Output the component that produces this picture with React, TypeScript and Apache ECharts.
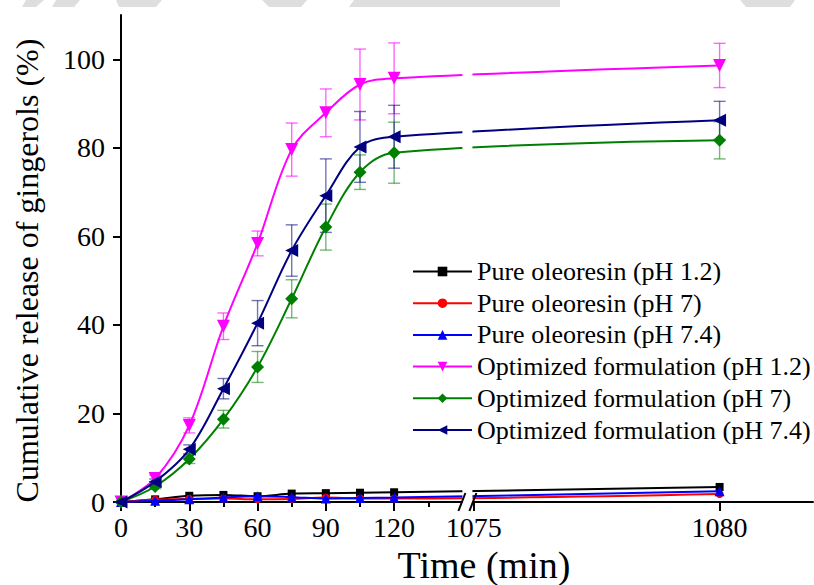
import React, { useEffect, useRef } from "react";
import * as echarts from "echarts";

// ---------- data ----------
const times = [0, 15, 30, 45, 60, 75, 90, 105, 120, 1080];

const seriesNames = [
  "Pure oleoresin (pH 1.2)",
  "Pure oleoresin (pH 7)",
  "Pure oleoresin (pH 7.4)",
  "Optimized formulation (pH 1.2)",
  "Optimized formulation (pH 7)",
  "Optimized formulation (pH 7.4)",
];

const pureOleoresinPH12 = [0, 0.6, 1.4, 1.6, 1.3, 1.9, 2.0, 2.1, 2.2, 3.4];
const pureOleoresinPH7 = [0, 0.5, 0.7, 0.8, 0.6, 0.7, 1.0, 0.8, 0.8, 1.8];
const pureOleoresinPH74 = [0, 0.3, 0.6, 1.0, 1.3, 1.1, 0.8, 0.9, 1.0, 2.4];

const optimizedPH12 = [0, 5.3, 17.3, 39.7, 58.4, 79.6, 87.9, 94.3, 95.7, 98.6];
const optimizedPH12Err = [0, 0.8, 1.7, 3.0, 2.8, 6.0, 5.4, 8.0, 8.0, 5.0];
const optimizedPH7 = [0, 3.5, 9.7, 18.7, 30.5, 45.9, 62.1, 74.5, 78.9, 81.7];
const optimizedPH7Err = [0, 0.5, 1.0, 2.0, 3.5, 4.3, 5.2, 3.9, 6.9, 4.2];
const optimizedPH74 = [0, 4.6, 11.9, 25.6, 40.4, 56.8, 69.2, 80.2, 82.5, 86.2];
const optimizedPH74Err = [0, 0.6, 1.0, 2.3, 5.1, 5.8, 8.3, 8.0, 7.1, 4.3];

const xTickLabels = [0, 30, 60, 90, 120, 1075, 1080];
const xMinorTicks = [15, 45, 75, 105, 135];
const yTickLabels = [0, 20, 40, 60, 80, 100];

// ---------- broken axis mapping ----------
const BREAK_FROM = 150;
const BREAK_TO = 1075;
const BREAK_GAP = 5;
const SEG2_SCALE = 21.6;
const X_END = 1081.9;
const Y_MAX = 110;

const toAxis = (t: number) =>
  t <= BREAK_FROM ? t : BREAK_FROM + BREAK_GAP + (t - BREAK_TO) * SEG2_SCALE;
const fromAxis = (d: number) =>
  d <= BREAK_FROM ? d : BREAK_TO + (d - BREAK_FROM - BREAK_GAP) / SEG2_SCALE;

const FONT = "'Liberation Serif', 'DejaVu Serif', serif";

type Spec = {
  values: number[];
  color: string;
  symbol: string;
  size: number;
  rotate?: number;
  err?: number[];
  errColor?: string;
};

const specs: Spec[] = [
  { values: pureOleoresinPH12, color: "#000000", symbol: "rect", size: 8 },
  { values: pureOleoresinPH7, color: "#ff0000", symbol: "circle", size: 8 },
  { values: pureOleoresinPH74, color: "#0000ff", symbol: "triangle", size: 10 },
  {
    values: optimizedPH12, color: "#ff00ff", symbol: "triangle", size: 13, rotate: 180,
    err: optimizedPH12Err, errColor: "rgba(255,0,255,0.6)",
  },
  {
    values: optimizedPH7, color: "#008000", symbol: "diamond", size: 13,
    err: optimizedPH7Err, errColor: "rgba(0,128,0,0.55)",
  },
  {
    values: optimizedPH74, color: "#000080", symbol: "triangle", size: 13, rotate: 90,
    err: optimizedPH74Err, errColor: "rgba(0,0,128,0.55)",
  },
];

export default function App() {
  const ref = useRef<HTMLDivElement>(null);

  useEffect(() => {
    document.body.style.margin = "0";
    if (!ref.current) return;
    const chart = echarts.init(ref.current, undefined, { renderer: "svg" });

    const lineSeries: any[] = specs.map((s, k) => ({
      name: seriesNames[k],
      type: "line",
      data: times.map((t, i) => [toAxis(t), s.values[i]]),
      smooth: 0.35,
      symbol: s.symbol,
      symbolSize: s.size,
      symbolRotate: s.rotate || 0,
      itemStyle: { color: s.color },
      lineStyle: { color: s.color, width: 2 },
      z: 3 + k,
    }));

    const errSeries: any[] = specs
      .filter((s) => s.err)
      .map((s) => ({
        type: "custom",
        name: "err",
        silent: true,
        z: 2,
        dimensions: ["x", "lo", "hi"],
        encode: { x: 0, y: [1, 2] },
        data: times
          .map((t, i) => [toAxis(t), s.values[i] - s.err![i], s.values[i] + s.err![i], s.err![i]])
          .filter((d) => d[3] > 0)
          .map((d) => [d[0], d[1], d[2]]),
        renderItem: (params: any, api: any) => {
          const x = api.value(0);
          const top = api.coord([x, api.value(2)]);
          const bot = api.coord([x, api.value(1)]);
          const w = 6;
          const style = { stroke: s.errColor, lineWidth: 1.4, fill: "none" };
          return {
            type: "group",
            children: [
              { type: "line", shape: { x1: top[0], y1: top[1], x2: bot[0], y2: bot[1] }, style },
              { type: "line", shape: { x1: top[0] - w, y1: top[1], x2: top[0] + w, y2: top[1] }, style },
              { type: "line", shape: { x1: bot[0] - w, y1: bot[1], x2: bot[0] + w, y2: bot[1] }, style },
            ],
          };
        },
      }));

    const axisLineStyle = { color: "#000", width: 2 };

    chart.setOption({
      animation: false,
      backgroundColor: "#ffffff",
      textStyle: { fontFamily: FONT, color: "#000" },
      grid: { left: 121, right: 1, top: 15, bottom: 83, containLabel: false, outerBoundsMode: "none" },
      legend: {
        data: seriesNames,
        orient: "vertical",
        left: 412,
        top: 258,
        padding: 0,
        itemWidth: 59,
        itemHeight: 12,
        itemGap: 4.7,
        textStyle: { fontFamily: FONT, fontSize: 26, color: "#000", lineHeight: 27 },
      },
      xAxis: [
        {
          type: "value",
          min: 0,
          max: toAxis(X_END),
          position: "bottom",
          axisLine: { show: true, onZero: false, lineStyle: axisLineStyle },
          axisTick: {
            show: true,
            inside: false,
            length: 9,
            lineStyle: axisLineStyle,
            customValues: xTickLabels.map(toAxis),
          },
          axisLabel: {
            show: true,
            customValues: xTickLabels.map(toAxis),
            formatter: (v: number) => String(Math.round(fromAxis(v))),
            fontSize: 28,
            fontFamily: FONT,
            color: "#000",
            margin: 11,
          },
          splitLine: { show: false },
          name: "Time (min)",
          nameLocation: "middle",
          nameGap: 36,
          nameTextStyle: { fontSize: 38, fontFamily: FONT, color: "#000", padding: [0, 0, 0, 34] },
        },
        {
          type: "value",
          min: 0,
          max: toAxis(X_END),
          position: "bottom",
          axisLine: { show: false },
          axisTick: {
            show: true,
            inside: false,
            length: 5,
            lineStyle: axisLineStyle,
            customValues: xMinorTicks.map(toAxis),
          },
          axisLabel: { show: false },
          splitLine: { show: false },
        },
      ],
      yAxis: {
        type: "value",
        min: 0,
        max: Y_MAX,
        axisLine: { show: true, lineStyle: axisLineStyle },
        axisTick: {
          show: true,
          inside: false,
          length: 8,
          lineStyle: axisLineStyle,
          customValues: yTickLabels,
        },
        axisLabel: {
          customValues: yTickLabels,
          fontSize: 28,
          fontFamily: FONT,
          color: "#000",
          margin: 16,
        },
        splitLine: { show: false },
        name: "Cumulative release of gingerols (%)",
        nameLocation: "middle",
        nameGap: 78,
        nameTextStyle: { fontSize: 32, fontFamily: FONT, color: "#000", padding: [0, 24, 0, 0] },
      },
      series: [...errSeries, ...lineSeries],
    });

    // axis-break decoration, located through the axis scales
    const xBreakA = chart.convertToPixel({ xAxisIndex: 0 }, BREAK_FROM) as number;
    const xBreakB = chart.convertToPixel({ xAxisIndex: 0 }, BREAK_FROM + BREAK_GAP - 0.6) as number;
    const y0 = chart.convertToPixel({ yAxisIndex: 0 }, 0) as number;
    const yHiTop = chart.convertToPixel({ yAxisIndex: 0 }, 102) as number;
    const yHiBot = chart.convertToPixel({ yAxisIndex: 0 }, 68) as number;
    const yLoTop = chart.convertToPixel({ yAxisIndex: 0 }, 5) as number;

    const gray = "#dedede";
    chart.setOption({
      graphic: [
        { type: "polygon", z: 0, shape: { points: [[26, 0], [44, 0], [36, 7], [22, 7]] }, style: { fill: gray } },
        { type: "polygon", z: 0, shape: { points: [[56, 0], [80, 0], [74, 7], [52, 7]] }, style: { fill: gray } },
        { type: "polygon", z: 0, shape: { points: [[116, 0], [162, 0], [156, 7], [119, 7]] }, style: { fill: gray } },
        { type: "polygon", z: 0, shape: { points: [[262, 0], [307, 0], [301, 7], [269, 7]] }, style: { fill: gray } },
        { type: "polygon", z: 0, shape: { points: [[354, 0], [560, 0], [560, 7], [349, 7]] }, style: { fill: gray } },
        { type: "polygon", z: 0, shape: { points: [[740, 0], [795, 0], [790, 7], [746, 7]] }, style: { fill: gray } },
        {
          type: "rect", z: 100,
          shape: { x: xBreakA, y: yHiTop, width: xBreakB - xBreakA, height: yHiBot - yHiTop },
          style: { fill: "#fff" },
        },
        {
          type: "rect", z: 100,
          shape: { x: xBreakA, y: yLoTop, width: xBreakB - xBreakA, height: y0 - yLoTop + 2 },
          style: { fill: "#fff" },
        },
        {
          type: "line", z: 101,
          shape: { x1: xBreakA - 4, y1: y0 + 9, x2: xBreakA + 3, y2: y0 - 9 },
          style: { stroke: "#000", lineWidth: 2 },
        },
        {
          type: "line", z: 101,
          shape: { x1: xBreakB - 3, y1: y0 + 9, x2: xBreakB + 4, y2: y0 - 9 },
          style: { stroke: "#000", lineWidth: 2 },
        },
      ],
    });

    return () => chart.dispose();
  }, []);

  return (
    <div
      ref={ref}
      style={{ position: "absolute", left: 0, top: 0, width: 814, height: 585, background: "#fff" }}
    />
  );
}
